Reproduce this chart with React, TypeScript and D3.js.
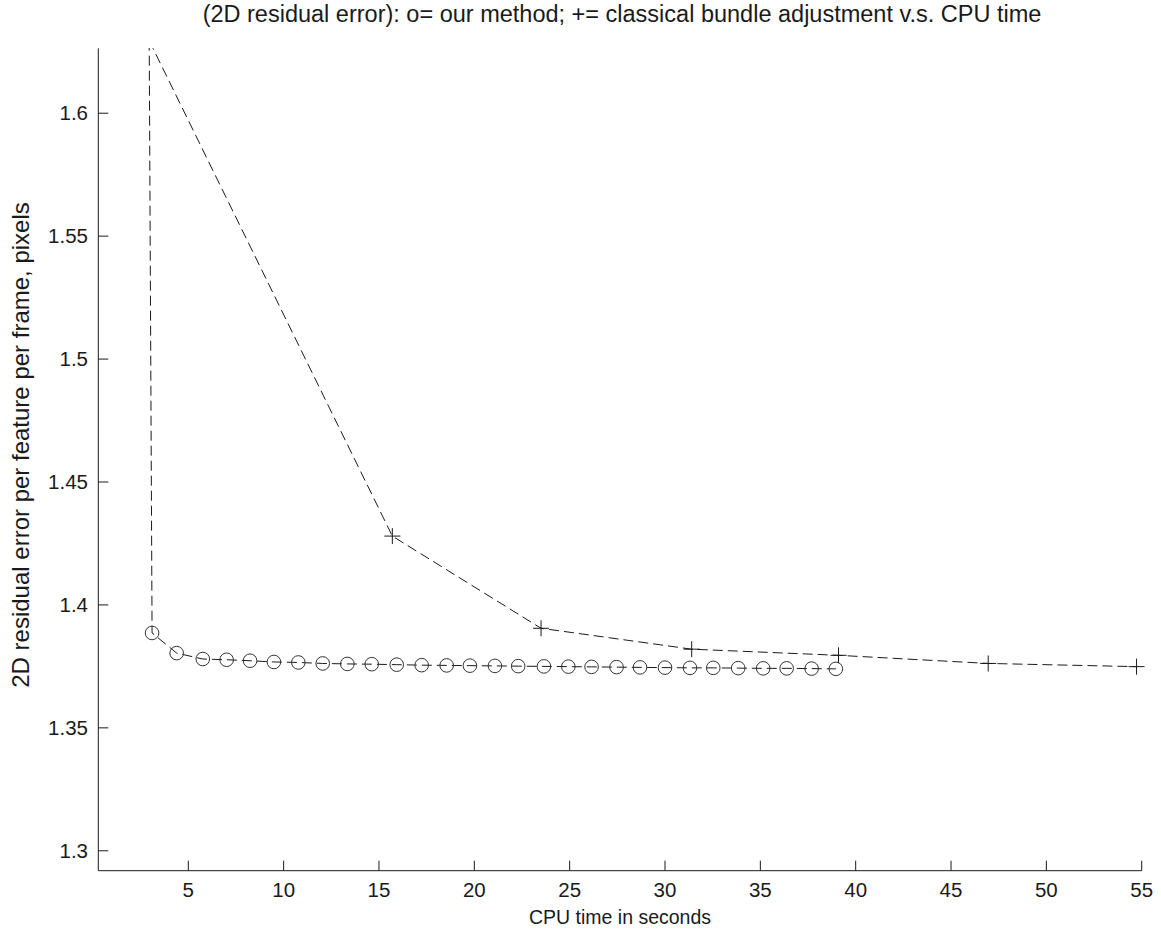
import React from "react";
import * as d3 from "d3";

// Our method ("o"): CPU time (s) and 2D residual error per feature per frame
const oursTime = [
  2.95, 3.1, 4.39, 5.76, 7.01, 8.24, 9.49, 10.77, 12.05, 13.34, 14.62, 15.93,
  17.24, 18.55, 19.77, 21.08, 22.3, 23.65, 24.93, 26.15, 27.46, 28.69, 30.0,
  31.31, 32.53, 33.84, 35.15, 36.38, 37.69, 38.96,
];
const oursError = [
  1.6295, 1.3886, 1.3804, 1.378, 1.3777, 1.3773, 1.3768, 1.3766, 1.3762,
  1.376, 1.3759, 1.3757, 1.3755, 1.3754, 1.3753, 1.3752, 1.3751, 1.375,
  1.3749, 1.3748, 1.3747, 1.3746, 1.3745, 1.3744, 1.3744, 1.3743, 1.3742,
  1.3742, 1.3741, 1.374,
];

// Classical bundle adjustment ("+")
const classicTime = [2.95, 15.7, 23.5, 31.4, 39.1, 46.95, 54.73];
const classicError = [1.6295, 1.428, 1.3905, 1.382, 1.3795, 1.3762, 1.3749];

const xTicks = [5, 10, 15, 20, 25, 30, 35, 40, 45, 50, 55];
const yTicks = [1.3, 1.35, 1.4, 1.45, 1.5, 1.55, 1.6];

const titleText =
  "(2D residual error): o= our method; += classical bundle adjustment v.s. CPU time";
const xLabel = "CPU time in seconds";
const yLabel = "2D residual error per feature per frame, pixels";

const W = 1161;
const H = 936;
const left = 98.3;
const right = 1141.7;
const top = 48.3;
const bottom = 870.7;

const FONT = "'Liberation Sans', Arial, Helvetica, sans-serif";

export default function App() {
  const x = d3.scaleLinear().domain([0.28, 55]).range([left, right]);
  const y = d3.scaleLinear().domain([1.2919, 1.6264]).range([bottom, top]);

  const ours = oursTime.map((t, i) => [t, oursError[i]] as [number, number]);
  const classic = classicTime.map(
    (t, i) => [t, classicError[i]] as [number, number]
  );

  const line = d3
    .line<[number, number]>()
    .x((d) => x(d[0]))
    .y((d) => y(d[1]));

  const ink = "#1a1a1a";
  const tickLen = 10;
  const plus = 8;

  return (
    <svg
      width={W}
      height={H}
      viewBox={`0 0 ${W} ${H}`}
      style={{ position: "absolute", left: 0, top: 0, background: "#fff" }}
    >
      <defs>
        <clipPath id="plot-area">
          <rect x={left} y={top} width={right - left + 12} height={bottom - top} />
        </clipPath>
      </defs>

      {/* title */}
      <text
        x={622}
        y={22}
        textAnchor="middle"
        fontFamily={FONT}
        fontSize={23.5}
        fill={ink}
      >
        {titleText}
      </text>

      <g clipPath="url(#plot-area)">
        <path
          d={line(ours) ?? ""}
          fill="none"
          stroke={ink}
          strokeWidth={1}
          strokeDasharray="10,5"
        />
        <path
          d={line(classic) ?? ""}
          fill="none"
          stroke={ink}
          strokeWidth={1}
          strokeDasharray="10,5"
        />
        {ours.map((d, i) => (
          <circle
            key={`o${i}`}
            cx={x(d[0])}
            cy={y(d[1])}
            r={6.8}
            fill="none"
            stroke="#333"
            strokeWidth={1}
          />
        ))}
        {classic.map((d, i) => (
          <g key={`p${i}`} stroke={ink} strokeWidth={1}>
            <line x1={x(d[0]) - plus} x2={x(d[0]) + plus} y1={y(d[1])} y2={y(d[1])} />
            <line x1={x(d[0])} x2={x(d[0])} y1={y(d[1]) - plus} y2={y(d[1]) + plus} />
          </g>
        ))}
      </g>

      {/* axes */}
      <line x1={left} x2={left} y1={top} y2={bottom} stroke={ink} strokeWidth={1} />
      <line x1={left} x2={right} y1={bottom} y2={bottom} stroke={ink} strokeWidth={1} />

      {xTicks.map((t) => (
        <g key={`xt${t}`}>
          <line
            x1={x(t)}
            x2={x(t)}
            y1={bottom}
            y2={bottom - tickLen}
            stroke={ink}
            strokeWidth={1}
          />
          <text
            x={x(t)}
            y={897}
            textAnchor="middle"
            fontFamily={FONT}
            fontSize={20.5}
            fill={ink}
          >
            {t}
          </text>
        </g>
      ))}

      {yTicks.map((t) => (
        <g key={`yt${t}`}>
          <line
            x1={left}
            x2={left + tickLen}
            y1={y(t)}
            y2={y(t)}
            stroke={ink}
            strokeWidth={1}
          />
          <text
            x={88}
            y={y(t) + 7}
            textAnchor="end"
            fontFamily={FONT}
            fontSize={20.5}
            fill={ink}
          >
            {d3.format("")(t)}
          </text>
        </g>
      ))}

      <text
        x={620}
        y={924}
        textAnchor="middle"
        fontFamily={FONT}
        fontSize={19.5}
        fill={ink}
      >
        {xLabel}
      </text>

      <text
        transform={`translate(29, 445) rotate(-90)`}
        textAnchor="middle"
        fontFamily={FONT}
        fontSize={24}
        fill={ink}
      >
        {yLabel}
      </text>
    </svg>
  );
}
